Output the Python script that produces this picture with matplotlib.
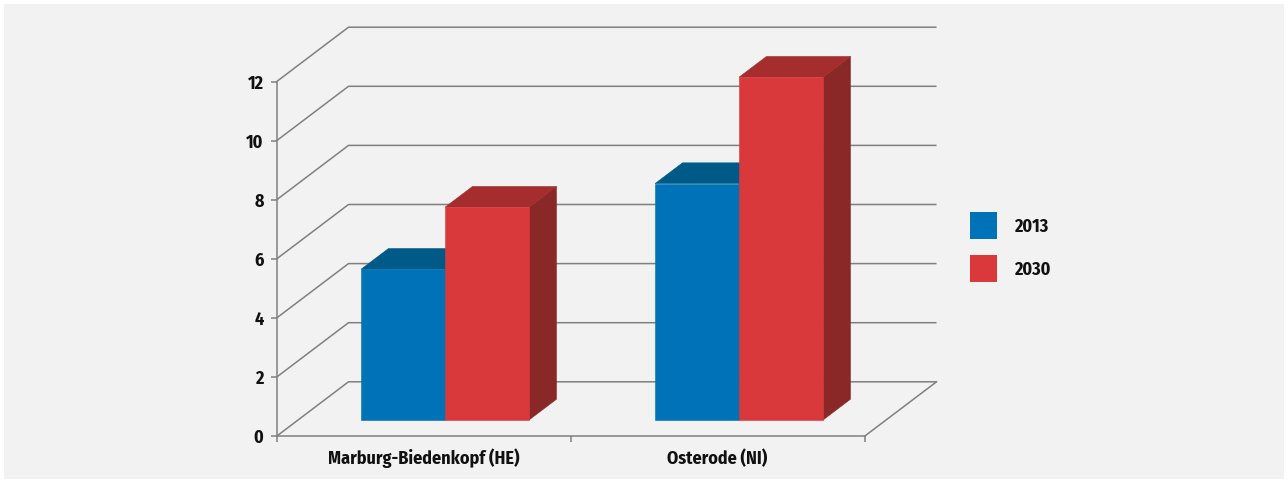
import matplotlib
matplotlib.use("Agg")
import matplotlib.pyplot as plt
from matplotlib.patches import Polygon, Rectangle
from matplotlib import font_manager

# --- data ---------------------------------------------------------------
categories = ["Marburg-Biedenkopf (HE)", "Osterode (NI)"]
series_names = ["2013", "2030"]
values_2013 = [5.1, 8.0]
values_2030 = [7.2, 11.6]
y_ticks = [0, 2, 4, 6, 8, 10, 12]

# --- style --------------------------------------------------------------
installed = {f.name for f in font_manager.fontManager.ttflist}
font = [n for n in ("Fira Sans Condensed", "PT Sans Narrow", "Open Sans Condensed")
        if n in installed][:1] + ["DejaVu Sans"]
plt.rcParams["font.family"] = font
plt.rcParams["font.weight"] = "bold"

BG = "#f2f2f2"
GRID = "#808080"
TEXT = "#111111"
FS = 13
face_colors = {"2013": ("#0072b7", "#005a88", "#004a70"),
               "2030": ("#da393b", "#a52d2d", "#892826")}

W, H, DPI = 1288, 483, 100
fig = plt.figure(figsize=(W / DPI, H / DPI), dpi=DPI, facecolor="white")
fig.patches.append(Rectangle((4 / W, 4 / H), (W - 8) / W, (H - 8) / H,
                             transform=fig.transFigure, facecolor=BG,
                             edgecolor="none", zorder=-10))

# front plane of the plot: x in category units, y in value units
x0_px, x1_px = 276.5, 864.5
y0_px, y12_px = 436.3, 81.7
ax = fig.add_axes([x0_px / W, (H - y0_px) / H, (x1_px - x0_px) / W, (y0_px - y12_px) / H])
ax.set_facecolor("none")
ax.set_xlim(0, len(categories))
ax.set_ylim(0, 12)

# oblique depth offset (full depth of the floor) in data units
px_per_x = (x1_px - x0_px) / len(categories)
px_per_y = (y0_px - y12_px) / 12
depth_dx = 72 / px_per_x
depth_dy = 54.5 / px_per_y

# back-wall gridlines with their diagonal connectors
for v in y_ticks:
    ax.plot([0, depth_dx, len(categories) + depth_dx],
            [v, v + depth_dy, v + depth_dy],
            color=GRID, lw=1.1, clip_on=False, zorder=1, solid_capstyle="butt")
# right edge of the floor
ax.plot([len(categories), len(categories) + depth_dx], [0, depth_dy],
        color=GRID, lw=1.1, clip_on=False, zorder=1)

# bars
gap = 1.5
bar_w = 1 / (len(series_names) + gap)
front = 0.30   # bar front plane as fraction of floor depth
depth = 0.38   # bar depth as fraction of floor depth

def draw_bar(xl, v, colors, z):
    fc, tc, sc = colors
    xr = xl + bar_w
    ox, oy = front * depth_dx, front * depth_dy
    bx, by = depth * depth_dx, depth * depth_dy
    fr = [(xl + ox, oy), (xr + ox, oy), (xr + ox, v + oy), (xl + ox, v + oy)]
    top = [(xl + ox, v + oy), (xr + ox, v + oy), (xr + ox + bx, v + oy + by), (xl + ox + bx, v + oy + by)]
    side = [(xr + ox, oy), (xr + ox + bx, oy + by), (xr + ox + bx, v + oy + by), (xr + ox, v + oy)]
    for pts, c in ((side, sc), (top, tc), (fr, fc)):
        ax.add_patch(Polygon(pts, closed=True, facecolor=c, edgecolor=c, lw=0.4,
                             clip_on=False, zorder=z))

series_values = {"2013": values_2013, "2030": values_2030}
for i in range(len(categories)):
    start = i + 0.5 - bar_w * len(series_names) / 2
    for j, name in enumerate(series_names):
        draw_bar(start + j * bar_w, series_values[name][i], face_colors[name], 3 + j + 2 * i)

# axes: front vertical axis and floor front edge
for s in ("top", "right"):
    ax.spines[s].set_visible(False)
for s in ("left", "bottom"):
    ax.spines[s].set_color(GRID)
    ax.spines[s].set_linewidth(1.1)
    ax.spines[s].set_zorder(2)

ax.set_yticks(y_ticks)
ax.set_yticklabels([str(t) for t in y_ticks])
ax.tick_params(axis="y", length=4.3, width=1.1, color=GRID, pad=5, labelsize=FS)
ax.set_xticks(range(len(categories) + 1))
ax.set_xticklabels([])
ax.tick_params(axis="x", which="major", length=4.3, width=1.1, color=GRID, direction="out")
ax.set_xticks([i + 0.5 for i in range(len(categories))], minor=True)
ax.set_xticklabels(categories, minor=True)
ax.tick_params(axis="x", which="minor", length=0, pad=9, labelsize=FS)
for lab in ax.get_xticklabels(minor=True) + ax.get_yticklabels():
    lab.set_fontweight("bold")
    lab.set_color(TEXT)

# legend: colour squares with labels
sq = 27
for k, name in enumerate(series_names):
    top_px = 212 + k * 43
    fig.patches.append(Rectangle((970 / W, 1 - (top_px + sq) / H), sq / W, sq / H,
                                 transform=fig.transFigure, facecolor=face_colors[name][0],
                                 edgecolor="none", zorder=5))
    fig.text(1014 / W, 1 - (top_px + sq / 2) / H, name, ha="left", va="center_baseline",
             fontsize=FS, fontweight="bold", color=TEXT)

fig.savefig("out.png", dpi=DPI, facecolor="white")
